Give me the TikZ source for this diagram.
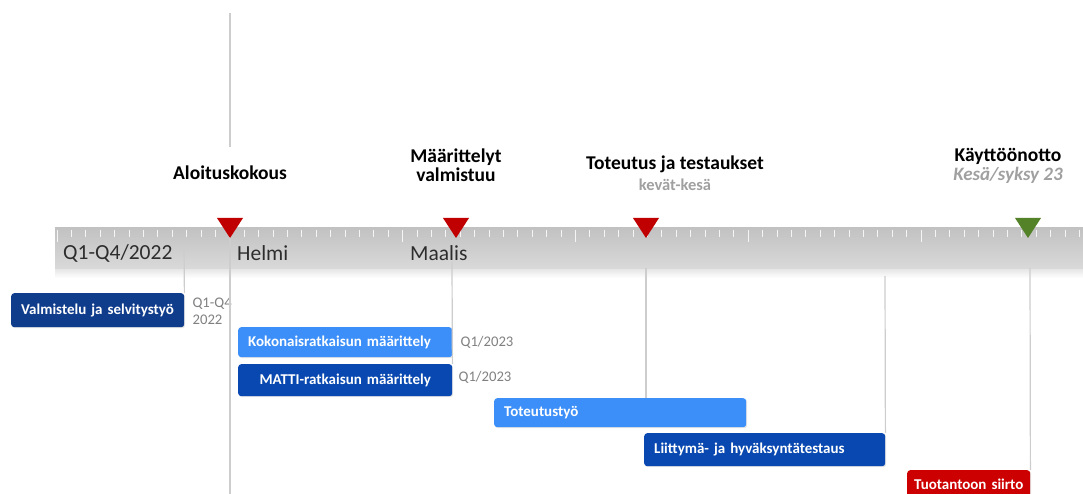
\documentclass[tikz,border=0pt]{standalone}
\usepackage{fontspec}
\setmainfont{Carlito}
\usetikzlibrary{positioning,shadows}

\definecolor{navy}{RGB}{16,60,140}
\definecolor{royal}{RGB}{8,72,176}
\definecolor{sky}{RGB}{60,143,248}
\definecolor{crimson}{RGB}{204,0,0}
\definecolor{mred}{RGB}{192,0,0}
\definecolor{mgreen}{RGB}{84,130,40}
\definecolor{guide}{RGB}{205,205,205}
\definecolor{dim}{RGB}{128,128,128}
\definecolor{faint}{RGB}{160,160,160}
\definecolor{ink}{RGB}{45,45,45}

\tikzset{
  task/.style={rounded corners=3pt,anchor=north west,text=white,inner xsep=10pt,inner ysep=0pt,
    font=\fontsize{15}{17}\selectfont\bfseries,align=left,
    drop shadow={opacity=0.2,shadow xshift=1pt,shadow yshift=-1pt}},
  when/.style={text=dim,inner sep=0pt,font=\fontsize{14.7}{17}\selectfont,align=left},
  title/.style={inner sep=0pt,font=\fontsize{19.5}{19}\selectfont\bfseries,align=center},
  sub/.style={inner sep=0pt,text=faint,font=\fontsize{16.5}{19}\selectfont\bfseries},
  period/.style={inner sep=0pt,anchor=west,text=ink,font=\fontsize{21.5}{24}\selectfont},
  rule/.style={guide,line width=1.2pt},
  tick/.style={white!92!gray,line width=0.8pt}
}

\begin{document}
\begin{tikzpicture}[x=1pt,y=-1pt]
  \useasboundingbox (0,0) rectangle (1083,494);

  % timeline bar
  \shade[top color=gray!22,bottom color=white] (55,268) rectangle (1083,278);
  \shade[top color=gray!48,middle color=gray!60,bottom color=gray!30] (55,228) rectangle (1083,268);
  \foreach \i in {0,...,71}{
    \pgfmathsetmacro\len{mod(\i,12)==0 ? 12 : 7}
    \draw[tick] ({57+14.4*\i},230) -- ++(0,\len);
  }
  \node[period] (q) at (63,253) {Q1-Q4/2022};
  \node[period] (feb) at (237,253) {Helmi};
  \node[period] (mar) at (410,253) {Maalis};

  % milestone tips
  \coordinate (kick) at (230,238);
  \coordinate (spec) at (456,238);
  \coordinate (build) at (646,238);
  \coordinate (live) at (1028,238);
  \coordinate (bottom) at (0,494);

  % tasks
  \node[task,fill=navy,text width=153pt,minimum height=34pt] (prep) at (11,293) {Valmistelu ja selvitystyö};
  \node[task,fill=sky,text width=194pt,minimum height=30pt] (whole) at (238,327) {Kokonaisratkaisun määrittely};
  \node[task,fill=royal,text width=194pt,minimum height=32pt,align=center] (matti) at (238,364) {MATTI-ratkaisun määrittely};
  \node[task,fill=sky,text width=232pt,minimum height=29pt] (work) at (494,398) {Toteutustyö};
  \node[task,fill=royal,text width=221pt,minimum height=33pt] (test) at (644,433) {Liittymä- ja hyväksyntätestaus};
  \node[task,fill=crimson,text width=113pt,inner xsep=5pt,align=center,minimum height=28pt] (move) at (907,470) {Tuotantoon siirto};

  \node[when,anchor=north west] (prepwhen) at ([xshift=8pt,yshift=-5pt]prep.north east) {Q1-Q4\\2022};
  \node[when] (wholewhen) [right=8pt of whole] {Q1/2023};
  \node[when] (mattiwhen) [right=6pt of matti,yshift=3pt] {Q1/2023};

  % guide lines
  \draw[rule] (230,13) -- (230,147);
  \draw[rule] (kick) -- (kick |- bottom);
  \draw[rule] (184,245) -- (prep.north east);
  \draw[rule] (452,262) -- (matti.north east);
  \draw[rule] (646,268) -- (build |- work.north);
  \draw[rule] (885,276) -- (test.north east);
  \draw[rule] (1030,268) -- (move.north east);

  % milestones
  \fill[mred] (kick) -- ++(-13,-20) -- ++(26,0) -- cycle;
  \fill[mred] (spec) -- ++(-13,-20) -- ++(26,0) -- cycle;
  \fill[mred] (build) -- ++(-13,-20) -- ++(26,0) -- cycle;
  \fill[mgreen] (live) -- ++(-13,-20) -- ++(26,0) -- cycle;

  \node[title] (kickname) at (230,173) {Aloituskokous};
  \node[title] (specname) at (456,165) {Määrittelyt\\valmistuu};
  \node[title] (buildname) at (675,164) {Toteutus ja testaukset};
  \node[sub] (buildwhen) at (675,185) {kevät-kesä};
  \node[title] (livename) at (1008,156) {Käyttöönotto};
  \node[sub,font=\fontsize{19}{21}\selectfont\bfseries\itshape] (livewhen) at (1008,175) {Kesä/syksy 23};
\end{tikzpicture}
\end{document}
